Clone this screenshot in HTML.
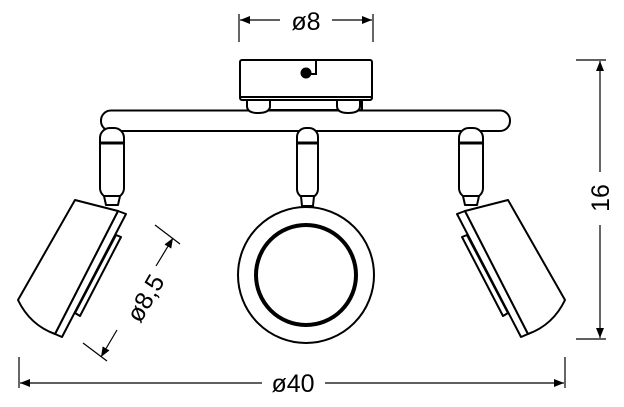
<!DOCTYPE html>
<html><head><meta charset="utf-8"><style>
html,body{margin:0;padding:0;background:#fff;}
svg{display:block;}
text{font-family:"Liberation Sans",sans-serif;fill:#000;}
</style></head><body>
<svg width="624" height="407" viewBox="0 0 624 407" xmlns="http://www.w3.org/2000/svg">
<defs>
<marker id="a" viewBox="0 0 10 10" refX="10" refY="5" markerWidth="10" markerHeight="10" markerUnits="userSpaceOnUse" orient="auto-start-reverse"><path d="M0,1 L10,5 L0,9 Z" fill="#000"/></marker>
<g id="spot" fill="#fff" stroke="#000" stroke-width="2" stroke-linejoin="round">
  <rect x="100" y="128" width="24" height="70" rx="10"/>
  <line x1="100" y1="143" x2="124" y2="143" stroke-width="3"/>
  <path d="M104,196 L120,196 L118,205 L106,205 Z"/>
  <path d="M116,235 L121,237 L80,316 L75,313 Z"/>
  <path d="M118,211 L126,214 L62,337 L55,334 Z"/>
  <path d="M75,200 L118,211 L55,334 Q30,325 18,300 Z"/>
</g>
</defs>

<!-- ø8 dimension -->
<g stroke="#000" stroke-width="1.2" fill="none">
  <line x1="239" y1="14" x2="239" y2="42"/>
  <line x1="373" y1="14" x2="373" y2="42"/>
  <line x1="240" y1="20" x2="280" y2="20" marker-start="url(#a)"/>
  <line x1="332" y1="20" x2="372" y2="20" marker-end="url(#a)"/>
</g>
<text x="306" y="30" font-size="25" text-anchor="middle">ø8</text>

<!-- bar -->
<rect x="101" y="110.5" width="409" height="20.5" rx="10" fill="#fff" stroke="#000" stroke-width="2"/>

<!-- canopy -->
<g fill="#fff" stroke="#000" stroke-width="2">
  <rect x="250" y="99" width="112" height="11"/>
  <path d="M247,100 L247,106 Q247,113 258,113 Q270,113 270,106 L270,100"/>
  <path d="M337,100 L337,106 Q337,113 348,113 Q360,113 360,106 L360,100"/>
  <rect x="240" y="60" width="132" height="40" rx="2"/>
  <line x1="240" y1="97" x2="372" y2="97"/>
</g>
<circle cx="306" cy="73" r="5.5" fill="#000"/>
<path d="M316,60 L316,74 L310,74" fill="none" stroke="#000" stroke-width="2"/>

<!-- center -->
<g fill="#fff" stroke="#000" stroke-width="2">
  <rect x="297" y="128" width="21" height="70" rx="9"/>
  <line x1="297" y1="143" x2="318" y2="143" stroke-width="3"/>
  <path d="M301,196 L314,196 L313,206 L302,206 Z"/>
  <circle cx="306" cy="275" r="68"/>
  <circle cx="306" cy="275" r="50" stroke-width="4"/>
</g>

<!-- spots -->
<use href="#spot"/>
<use href="#spot" transform="translate(583,0) scale(-1,1)"/>

<!-- ø8,5 -->
<g stroke="#000" stroke-width="1.2" fill="none">
  <line x1="155" y1="225" x2="180" y2="244"/>
  <line x1="83" y1="343" x2="107" y2="361"/>
  <line x1="156" y1="266" x2="173" y2="238" marker-end="url(#a)"/>
  <line x1="117" y1="330" x2="101" y2="357" marker-end="url(#a)"/>
</g>
<text x="0" y="0" font-size="25" text-anchor="middle" transform="translate(145,298) rotate(-60) translate(0,9)">ø8,5</text>

<!-- 16 -->
<g stroke="#000" stroke-width="1.2" fill="none">
  <line x1="576" y1="60" x2="606" y2="60"/>
  <line x1="576" y1="339" x2="606" y2="339"/>
  <line x1="600" y1="61" x2="600" y2="172" marker-start="url(#a)"/>
  <line x1="600" y1="225" x2="600" y2="338" marker-end="url(#a)"/>
</g>
<text x="0" y="0" font-size="25" text-anchor="middle" transform="translate(600,198) rotate(-90) translate(0,9)">16</text>

<!-- ø40 -->
<g stroke="#000" stroke-width="1.2" fill="none">
  <line x1="19" y1="357" x2="19" y2="388"/>
  <line x1="565" y1="357" x2="565" y2="388"/>
  <line x1="20" y1="383" x2="262" y2="383" marker-start="url(#a)"/>
  <line x1="325" y1="383" x2="564" y2="383" marker-end="url(#a)"/>
</g>
<text x="293" y="392" font-size="25" text-anchor="middle">ø40</text>
</svg>
</body></html>
